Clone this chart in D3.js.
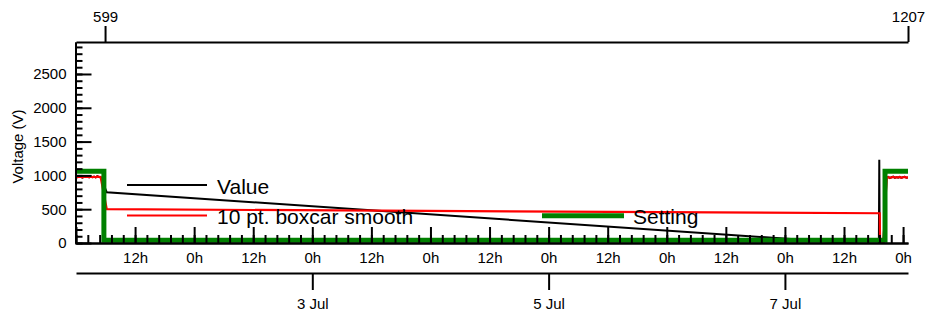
<!DOCTYPE html>
<html>
<head>
<meta charset="utf-8">
<script src="https://cdn.jsdelivr.net/npm/d3@7"></script>
<style>
  body { margin: 0; background: #fff; }
  svg { display: block; font-family: 'Liberation Sans', Arial, sans-serif; }
  .axis text { font-family: 'Liberation Sans', Arial, sans-serif; font-size: 15px; fill: #000; }
  .axis path, .axis line { stroke: #000; stroke-width: 2; }
  .legend text { font-size: 21px; fill: #000; }
</style>
</head>
<body>
<div id="chart"></div>
<script>
const valueTimes = [
  '2021-07-01T00:00', '2021-07-01T00:20', '2021-07-01T00:40', '2021-07-01T01:00',
  '2021-07-01T01:20', '2021-07-01T01:40', '2021-07-01T02:00', '2021-07-01T02:20',
  '2021-07-01T02:40', '2021-07-01T03:00', '2021-07-01T03:20', '2021-07-01T03:40',
  '2021-07-01T04:00', '2021-07-01T04:20', '2021-07-01T04:40', '2021-07-01T05:00',
  '2021-07-01T06:15', '2021-07-07T19:05', '2021-07-07T19:10', '2021-07-07T19:15',
  '2021-07-07T20:00', '2021-07-07T20:40', '2021-07-07T21:00', '2021-07-07T21:20',
  '2021-07-07T21:40', '2021-07-07T22:00', '2021-07-07T22:20', '2021-07-07T22:40',
  '2021-07-07T23:00', '2021-07-07T23:20', '2021-07-07T23:40', '2021-07-08T00:00',
  '2021-07-08T00:20', '2021-07-08T00:40', '2021-07-08T01:00'
];
const valueVolts = [
  980, 972, 984, 975, 968, 986, 976, 982, 971, 985, 974, 981, 970, 987, 976, 973,
  750, -30, 1230, 0,
  0, 966, 978, 960, 973, 981, 964, 975, 967, 979, 962, 974, 980, 965, 971
];

const smoothTimes = [
  '2021-07-01T00:00', '2021-07-01T00:20', '2021-07-01T00:40', '2021-07-01T01:00',
  '2021-07-01T01:20', '2021-07-01T01:40', '2021-07-01T02:00', '2021-07-01T02:20',
  '2021-07-01T02:40', '2021-07-01T03:00', '2021-07-01T03:20', '2021-07-01T03:40',
  '2021-07-01T04:00', '2021-07-01T04:20', '2021-07-01T04:40', '2021-07-01T05:00',
  '2021-07-01T06:15', '2021-07-07T19:15', '2021-07-07T19:20',
  '2021-07-07T20:00', '2021-07-07T20:40', '2021-07-07T21:00', '2021-07-07T21:20',
  '2021-07-07T21:40', '2021-07-07T22:00', '2021-07-07T22:20', '2021-07-07T22:40',
  '2021-07-07T23:00', '2021-07-07T23:20', '2021-07-07T23:40', '2021-07-08T00:00',
  '2021-07-08T00:20', '2021-07-08T00:40', '2021-07-08T01:00'
];
const smoothVolts = [
  978, 974, 981, 976, 970, 983, 977, 980, 973, 982, 975, 979, 972, 984, 977, 975,
  500, 440, 0,
  0, 968, 975, 963, 971, 978, 966, 973, 969, 976, 964, 972, 977, 967, 970
];

const settingTimes = [
  '2021-07-01T00:00', '2021-07-01T05:40', '2021-07-01T05:40',
  '2021-07-07T20:20', '2021-07-07T20:20', '2021-07-08T01:00'
];
const settingVolts = [1060, 1060, 40, 40, 1060, 1060];

// Axis ticks.
const voltTicks = [0, 500, 1000, 1500, 2000, 2500];
const dateTicks = ['2021-07-03T00:00', '2021-07-05T00:00', '2021-07-07T00:00'];
const dateTickLabels = ['3 Jul', '5 Jul', '7 Jul'];
const pointTicks = [599, 1207];
const legendLabels = ['Value', '10 pt. boxcar smooth', 'Setting'];

const width = 928, height = 318;
const margin = { top: 42, right: 20, bottom: 75, left: 76 };
const plotW = 908 - margin.left, plotH = 243 - margin.top;

const parse = d3.utcParse('%Y-%m-%dT%H:%M');

const x = d3.scaleUtc()
  .domain([parse('2021-07-01T00:00'), parse('2021-07-08T01:00')])
  .range([margin.left, margin.left + plotW]);
const y = d3.scaleLinear()
  .domain([0, 2973])
  .range([margin.top + plotH, margin.top]);
// Top axis: point number.
const xp = d3.scaleLinear()
  .domain([577, 1207])
  .range([margin.left, margin.left + plotW]);

const svg = d3.select('#chart').append('svg')
  .attr('width', width)
  .attr('height', height);

svg.append('defs').append('clipPath').attr('id', 'plot-clip')
  .append('rect')
  .attr('x', margin.left).attr('y', margin.top)
  .attr('width', plotW).attr('height', plotH);

// Traces.
const line = d3.line().x(d => x(d[0])).y(d => y(d[1]));
const traces = [
  { times: valueTimes, volts: valueVolts, color: '#000', w: 2 },
  { times: smoothTimes, volts: smoothVolts, color: '#f00', w: 2.2 },
  { times: settingTimes, volts: settingVolts, color: '#008000', w: 5 }
];
const $data = svg.append('g').attr('clip-path', 'url(#plot-clip)');
traces.forEach(t => {
  $data.append('path')
    .datum(t.times.map((s, i) => [parse(s), t.volts[i]]))
    .attr('fill', 'none')
    .attr('stroke', t.color)
    .attr('stroke-width', t.w)
    .attr('stroke-linejoin', 'miter')
    .attr('d', line);
});

// Left axis: major + minor ticks pointing inside.
svg.append('g').attr('class', 'axis')
  .attr('transform', `translate(${margin.left - 0.5},0)`)
  .call(d3.axisLeft(y).tickValues(d3.range(0, 3000, 100)).tickSize(-7).tickSizeOuter(0).tickFormat(''));
svg.append('g').attr('class', 'axis')
  .attr('transform', `translate(${margin.left - 0.5},0)`)
  .call(d3.axisLeft(y).tickValues(voltTicks).tickSize(-16).tickSizeOuter(0).tickPadding(9)
    .tickFormat(d3.format('d')));

svg.append('text')
  .attr('transform', `translate(23,${margin.top + plotH / 2 + 4}) rotate(-90)`)
  .attr('text-anchor', 'middle')
  .style('font-size', '15px')
  .text('Voltage (V)');

// Bottom axis: hours, minor every 2.4 h.
const minorTimes = d3.range(0, 170, 2.4).map(h => new Date(x.domain()[0].getTime() + h * 3600e3));
const majorTimes = d3.utcHour.every(12).range(x.domain()[0], x.domain()[1]);
svg.append('g').attr('class', 'axis')
  .attr('transform', `translate(0,${margin.top + plotH})`)
  .call(d3.axisBottom(x).tickValues(minorTimes).tickSize(-8).tickSizeOuter(0).tickFormat(''));
svg.append('g').attr('class', 'axis')
  .attr('transform', `translate(0,${margin.top + plotH})`)
  .call(d3.axisBottom(x).tickValues(majorTimes).tickSize(-16).tickSizeOuter(0).tickPadding(9)
    .tickFormat((d, i) => (i === 0 ? '' : d.getUTCHours() + 'h')));

// Date axis below.
svg.append('g').attr('class', 'axis')
  .attr('transform', `translate(0,${margin.top + plotH + 30})`)
  .call(d3.axisBottom(x).tickValues(dateTicks.map(parse)).tickSize(17).tickSizeOuter(0).tickPadding(8)
    .tickFormat((d, i) => dateTickLabels[i]));

// Top axis: point numbers.
svg.append('g').attr('class', 'axis')
  .attr('transform', `translate(0,${margin.top})`)
  .call(d3.axisTop(xp).tickValues(pointTicks).tickSize(16).tickSizeOuter(0).tickPadding(4)
    .tickFormat(d3.format('d')));

// Legend.
const legendPos = [
  { x: 127, y: 185, tx: 217, ty: 194 },
  { x: 127, y: 215.5, tx: 217, ty: 224 },
  { x: 542, y: 215.8, tx: 633, ty: 224 }
];
const $legend = svg.append('g').attr('class', 'legend');
legendLabels.forEach((label, i) => {
  const p = legendPos[i];
  $legend.append('line')
    .attr('x1', p.x).attr('x2', p.x + (i === 2 ? 82 : 80))
    .attr('y1', p.y).attr('y2', p.y)
    .attr('stroke', traces[i].color)
    .attr('stroke-width', traces[i].w);
  $legend.append('text').attr('x', p.tx).attr('y', p.ty).text(label);
});
</script>
</body>
</html>
